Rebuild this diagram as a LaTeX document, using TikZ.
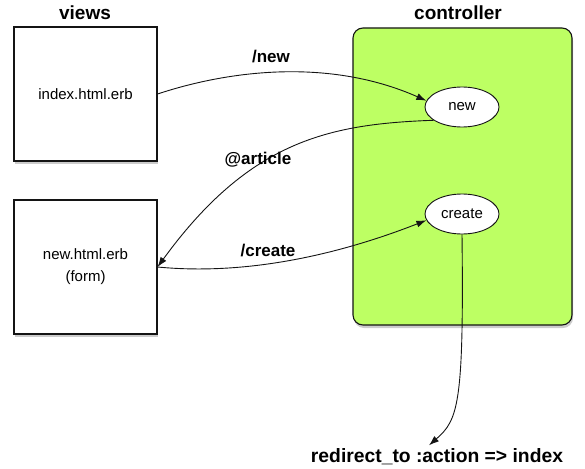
\documentclass[tikz,border=0pt]{standalone}
\usepackage{fontspec}
\setmainfont{Liberation Sans}
\usetikzlibrary{arrows.meta, shapes.geometric, shadows, calc}
\definecolor{ink}{HTML}{141414}
\definecolor{lime}{HTML}{BDFF63}
\tikzset{
  shd/.style={drop shadow={opacity=0.4, shadow xshift=1pt, shadow yshift=-3pt}},
  page/.style={draw=ink, line width=1.1pt, fill=white, minimum width=143pt, minimum height=134pt,
    align=center, font=\fontsize{15}{22}\selectfont, shd},
  act/.style={ellipse, draw=ink, line width=0.9pt, fill=white, minimum width=74pt, minimum height=40pt,
    inner sep=0pt, font=\fontsize{15}{17}\selectfont},
  ttl/.style={font=\bfseries\fontsize{19}{22}\selectfont},
  lbl/.style={font=\bfseries\fontsize{17}{20}\selectfont},
  flow/.style={draw=ink, line width=0.9pt, -{Latex[length=10pt,width=7pt]}}
}

\begin{document}
\begin{tikzpicture}[x=1pt, y=-1pt]
  \useasboundingbox (0,0) rectangle (585,468);
  % columns
  \node[ttl] (views) at (85,13) {views};
  \node[ttl] (ctrl) at (458,13) {controller};
  \node[page] (idx) at (85.5,94) {index.html.erb};
  \node[page] (form) at (85.5,267) {new.html.erb\\(form)};
  \node[draw=ink, line width=1.1pt, fill=lime, rounded corners=10pt, minimum width=219pt,
    minimum height=297pt, shd] (box) at (462.5,176.5) {};
  \node[act] (new) at (462,107) {new};
  \node[act] (create) at (462,214) {create};
  \node[font=\bfseries\fontsize{19.3}{22}\selectfont] (redir) at (437,457) {redirect\_to :action => index};
  \coordinate (tip) at ([xshift=-8pt]redir.north);
  % flows
  \draw[flow] (idx.east) .. controls (230,70) and (330,58) .. (new.170);
  \draw[flow] (new.205) .. controls (330,124) and (250,140) .. (form.east);
  \draw[flow] (form.east) .. controls (240,275) and (330,258) .. (create.190);
  \draw[flow] (create.south) .. controls (464,405) and (458,420) .. (tip);
  \node[lbl] (lnew) at (271,57) {/new};
  \node[lbl] (lart) at (258,160) {@article};
  \node[lbl] (lcreate) at (268,251) {/create};
\end{tikzpicture}
\end{document}
